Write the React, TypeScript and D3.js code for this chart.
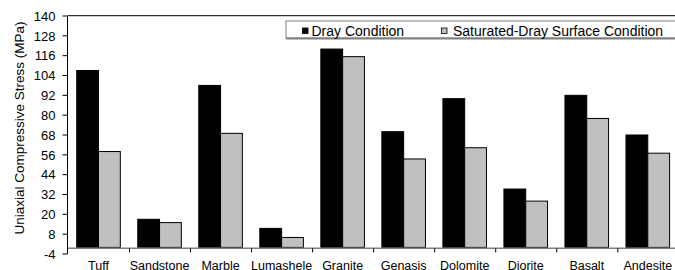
import * as d3 from "d3";
import { useEffect, useRef } from "react";

const categories = [
  "Tuff",
  "Sandstone",
  "Marble",
  "Lumashele",
  "Granite",
  "Genasis",
  "Dolomite",
  "Diorite",
  "Basalt",
  "Andesite",
];
const seriesNames = ["Dray Condition", "Saturated-Dray Surface Condition"];
const drayValues = [107, 17, 98, 11.5, 120, 70, 90, 35.3, 92, 68];
const saturatedValues = [58, 15, 69, 6, 115.4, 53.5, 60.3, 28, 78, 57];
const yTicks = [-4, 8, 20, 32, 44, 56, 68, 80, 92, 104, 116, 128, 140];

const seriesColors = ["#000000", "#c0c0c0"];
const font = "'Liberation Sans', Arial, sans-serif";

const App = () => {
  const ref = useRef<SVGSVGElement | null>(null);

  useEffect(() => {
    const svg = d3.select(ref.current);
    svg.selectAll("*").remove();

    const width = 675;
    const height = 270;
    svg.attr("width", width).attr("height", height);

    const left = 67.5;
    const top = 16;
    const bottom = 254;

    const yScale = d3.scaleLinear().domain([-4, 140]).range([bottom, top]);

    // category bands run a little past the right edge of the picture
    const xScale = d3
      .scaleBand()
      .domain(categories)
      .range([68, 678.3])
      .padding(0);

    const inner = d3
      .scaleBand()
      .domain(seriesNames)
      .range([0, xScale.bandwidth()])
      .paddingInner(0)
      .paddingOuter(0.4);

    const rows = categories.map((c, i) => ({
      label: c,
      values: [drayValues[i], saturatedValues[i]],
    }));

    const y0 = yScale(0);

    // top border of the plot area
    svg
      .append("line")
      .attr("x1", left)
      .attr("x2", width)
      .attr("y1", 15.7)
      .attr("y2", 15.7)
      .attr("stroke", "#000")
      .attr("stroke-width", 1);

    // bars
    const groups = svg
      .append("g")
      .selectAll("g")
      .data(rows)
      .enter()
      .append("g")
      .attr("transform", (d) => `translate(${xScale(d.label)},0)`);

    groups
      .selectAll("rect")
      .data((d) => d.values.map((v, j) => ({ v, j })))
      .enter()
      .append("rect")
      .attr("x", (d) => inner(seriesNames[d.j]) || 0)
      .attr("y", (d) => yScale(d.v))
      .attr("width", inner.bandwidth())
      .attr("height", (d) => y0 - yScale(d.v))
      .attr("fill", (d) => seriesColors[d.j])
      .attr("stroke", "#000")
      .attr("stroke-width", 1);

    // category axis at zero
    svg
      .append("line")
      .attr("x1", left)
      .attr("x2", width)
      .attr("y1", y0 + 0.8)
      .attr("y2", y0 + 0.8)
      .attr("stroke", "#808080")
      .attr("stroke-width", 1.6);

    svg
      .append("g")
      .selectAll("line")
      .data(categories.slice(1))
      .enter()
      .append("line")
      .attr("x1", (d) => (xScale(d) || 0) + 0.5)
      .attr("x2", (d) => (xScale(d) || 0) + 0.5)
      .attr("y1", y0 + 1)
      .attr("y2", y0 + 5)
      .attr("stroke", "#000")
      .attr("stroke-width", 1);

    svg
      .append("g")
      .selectAll("text")
      .data(categories)
      .enter()
      .append("text")
      .attr("x", (d) => (xScale(d) || 0) + xScale.bandwidth() / 2)
      .attr("y", 270)
      .attr("text-anchor", "middle")
      .style("font-family", font)
      .style("font-size", "12.5px")
      .style("fill", "#000")
      .text((d) => d);

    // value axis
    svg
      .append("line")
      .attr("x1", left)
      .attr("x2", left)
      .attr("y1", top)
      .attr("y2", bottom)
      .attr("stroke", "#000")
      .attr("stroke-width", 1);

    const yAxis = svg.append("g");
    yAxis
      .selectAll("line")
      .data(yTicks)
      .enter()
      .append("line")
      .attr("x1", left - 5)
      .attr("x2", left)
      .attr("y1", (d) => yScale(d))
      .attr("y2", (d) => yScale(d))
      .attr("stroke", "#000")
      .attr("stroke-width", 1);

    yAxis
      .selectAll("text")
      .data(yTicks)
      .enter()
      .append("text")
      .attr("x", 55.5)
      .attr("y", (d) => yScale(d))
      .attr("dy", "0.36em")
      .attr("text-anchor", "end")
      .style("font-family", font)
      .style("font-size", "13px")
      .style("fill", "#000")
      .text((d) => d);

    svg
      .append("text")
      .attr("transform", "rotate(-90)")
      .attr("x", -128)
      .attr("y", 23.5)
      .attr("text-anchor", "middle")
      .style("font-family", font)
      .style("font-size", "13.5px")
      .style("fill", "#000")
      .text("Uniaxial Compressive Stress (MPa)");

    // legend
    const legend = svg.append("g");
    legend
      .append("rect")
      .attr("x", 286)
      .attr("y", 21)
      .attr("width", 420)
      .attr("height", 17)
      .attr("fill", "#fff")
      .attr("stroke", "#808080")
      .attr("stroke-width", 1);
    legend
      .append("line")
      .attr("x1", 286)
      .attr("x2", width)
      .attr("y1", 38.5)
      .attr("y2", 38.5)
      .attr("stroke", "#808080")
      .attr("stroke-width", 2);

    const legendX = [302.5, 441.5];
    const textX = [311.5, 453];
    seriesNames.forEach((name, i) => {
      legend
        .append("rect")
        .attr("x", legendX[i])
        .attr("y", 28)
        .attr("width", 5.5)
        .attr("height", 5.5)
        .attr("fill", seriesColors[i])
        .attr("stroke", "#000")
        .attr("stroke-width", 0.8);
      legend
        .append("text")
        .attr("x", textX[i])
        .attr("y", 35.5)
        .style("font-family", font)
        .style("font-size", "14px")
        .style("fill", "#000")
        .text(name);
    });
  }, []);

  return (
    <svg
      ref={ref}
      style={{ position: "absolute", left: 0, top: 0, background: "#fff" }}
    ></svg>
  );
};

export default App;
